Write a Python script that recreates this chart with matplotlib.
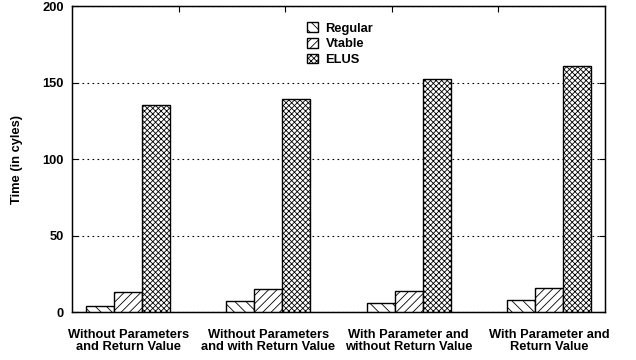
import numpy as np
import matplotlib
matplotlib.use("Agg")
import matplotlib.pyplot as plt

plt.rcParams["font.family"] = ["Liberation Sans", "DejaVu Sans"]
plt.rcParams["font.weight"] = "bold"
plt.rcParams["hatch.linewidth"] = 0.6

# Data
categories = ["Without Parameters\nand Return Value",
              "Without Parameters\nand with Return Value",
              "With Parameter and\nwithout Return Value",
              "With Parameter and\nReturn Value"]
regular = [4, 7, 6, 8]
vtable = [13, 15, 14, 16]
elus = [135, 139, 152, 161]

series = [("Regular", regular, "\\\\\\"),
          ("Vtable", vtable, "////"),
          ("ELUS", elus, "xxxxxx")]

fs = 9.3

fig = plt.figure(figsize=(6.36, 3.6), dpi=100)
ax = fig.add_axes([0.1132, 0.1333, 0.8381, 0.85])

x = np.arange(len(categories))
width = 0.2
for i, (name, vals, hatch) in enumerate(series):
    ax.bar(x + (i - 1) * width, vals, width, label=name, color="white",
           edgecolor="black", linewidth=1.0, hatch=hatch, zorder=3)

ax.set_xlim(-0.4, 3.4)
ax.set_ylim(0, 200)
ax.set_yticks([0, 50, 100, 150, 200])
ax.set_xticks(x)
ax.set_xticklabels(categories, fontsize=fs, fontweight="bold", linespacing=1.05)
ax.tick_params(axis="x", length=0, pad=12)
ax.tick_params(axis="y", direction="in", right=True, length=4, labelsize=fs,
               pad=6)
for lbl in ax.get_yticklabels():
    lbl.set_fontweight("bold")
ax.yaxis.grid(True, linestyle=(0, (1.5, 3)), color="black", linewidth=0.8)
ax.set_axisbelow(True)
ax.set_ylabel("Time (in cyles)", fontsize=fs, fontweight="bold", labelpad=14)

# mirror ticks on top
top = ax.twiny()
top.set_xlim(0, 5)
top.set_xticks([1, 2, 3, 4])
top.set_xticklabels([])
top.tick_params(axis="x", direction="in", length=4)

for s in ax.spines.values():
    s.set_linewidth(1.0)

ax.legend(loc="upper left", bbox_to_anchor=(0.42, 0.985), frameon=False,
          handlelength=0.8, handleheight=0.8, handletextpad=0.6,
          labelspacing=0.25, prop={"weight": "bold", "size": fs})

fig.savefig("out.png", dpi=100)
